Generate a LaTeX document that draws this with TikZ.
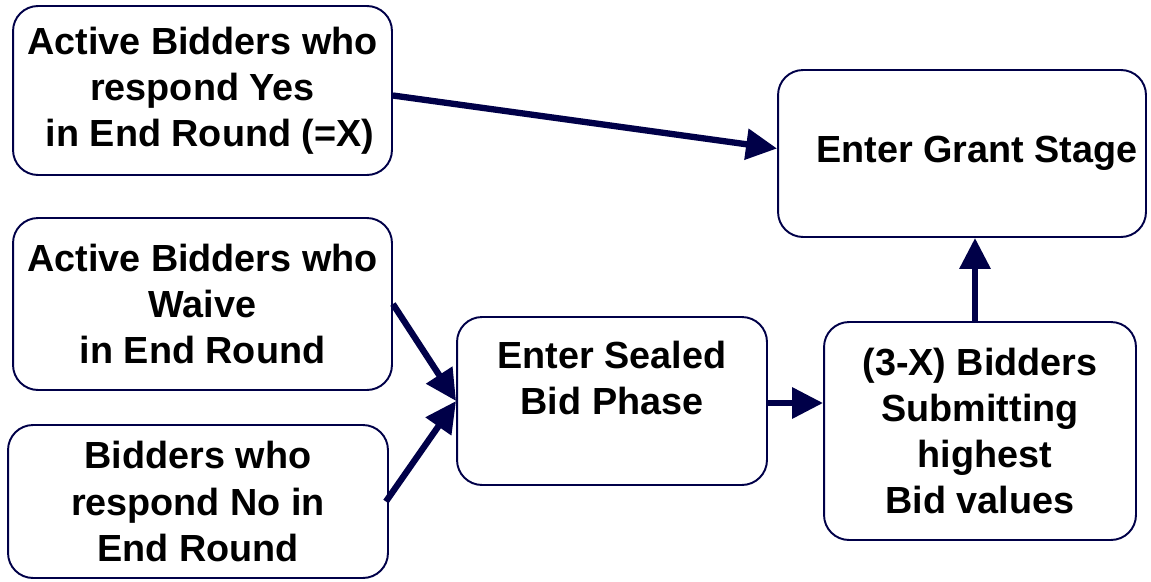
\documentclass[tikz,border=0pt]{standalone}
\usepackage{fontspec}
\setmainfont{Liberation Sans}
\usepackage{xcolor}
\usepackage{tikz}
\usetikzlibrary{positioning,calc,arrows.meta}
\definecolor{navy}{RGB}{0,0,72}

\begin{document}
\begin{tikzpicture}[x=0.02cm, y=-0.02cm,
    stage box/.style={draw=navy, line width=1.1pt, rounded corners=0.5cm, align=center,
        font=\fontsize{21.5}{26.2}\selectfont\bfseries, inner sep=0pt},
    flow arrow/.style={draw=navy, line width=3.6pt, -{Triangle[length=0.62cm, width=0.6cm]}}]
    \useasboundingbox (0,0) rectangle (1151,581);

    % Bidder groups on the left
    \node[stage box, minimum width=7.58cm, minimum height=3.38cm] (yes) at (202.5,90.5)
        {Active Bidders who\\respond Yes\\\hspace*{0.3cm}in End Round (=X)};
    \node[stage box, minimum width=7.58cm, minimum height=3.44cm] (waive) at (202.5,304)
        {Active Bidders who\\Waive\\in End Round};
    \node[stage box, minimum width=7.6cm, minimum height=3.06cm] (no) at (198,501.5)
        {Bidders who\\respond No in\\End Round};

    % Stages
    \node[stage box, minimum width=6.2cm, minimum height=3.36cm] (sealed) at (612,401)
        {Enter Sealed\\Bid Phase\\~};
    \node[stage box, minimum width=6.24cm, minimum height=4.36cm] (highest) at (980,431)
        {(3-X) Bidders\\Submitting\\\hspace*{0.2cm}highest\\Bid values};
    \node[stage box, minimum width=7.36cm, minimum height=3.34cm] (grant) at (962,153.5)
        {\hspace*{0.6cm}Enter Grant Stage};

    % Connections
    \draw[flow arrow] ([yshift=-0.1cm]yes.east) -- ([yshift=0.1cm]grant.west);
    \draw[flow arrow] (waive.east) -- (sealed.west);
    \draw[flow arrow] ([xshift=-0.06cm]no.east) -- (sealed.west);
    \draw[flow arrow] ([yshift=-0.04cm]sealed.east) -- ([yshift=-0.04cm]sealed.east -| highest.west);
    \draw[flow arrow] ([xshift=-0.1cm]highest.north) -- ([xshift=-0.1cm]highest.north |- grant.south);

\end{tikzpicture}
\end{document}
